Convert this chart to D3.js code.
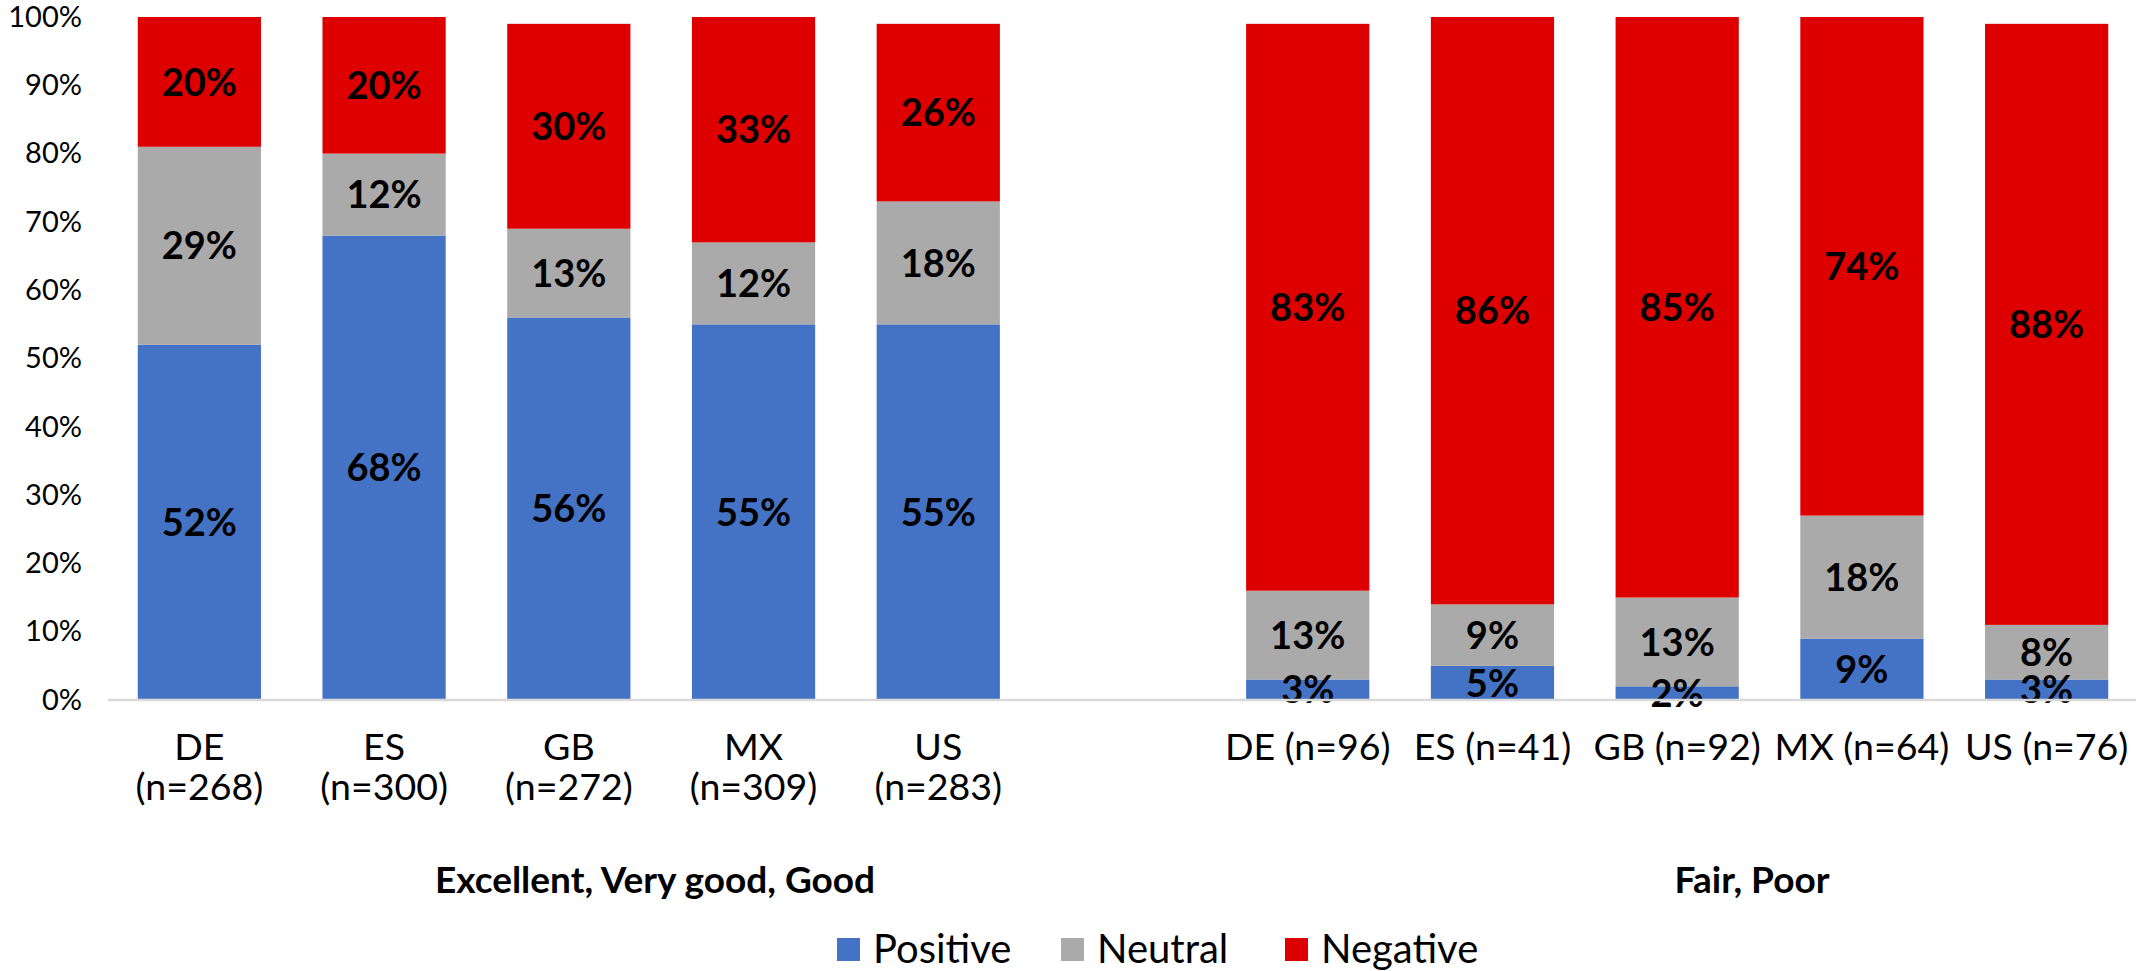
<!DOCTYPE html>
<html>
<head>
<meta charset="utf-8">
<script src="https://cdn.jsdelivr.net/npm/d3@7"></script>
<style>
  html, body { margin: 0; padding: 0; background: #fff; }
  svg { display: block; font-family: Lato, "Open Sans", sans-serif; }
</style>
</head>
<body>
<svg id="chart" width="2136" height="971"></svg>
<script>
// Survey groups and countries
const groupTitles = ["Excellent, Very good, Good", "Fair, Poor"];
const countries = ["DE", "ES", "GB", "MX", "US"];
const sampleGood = [268, 300, 272, 309, 283];
const sampleFair = [96, 41, 92, 64, 76];

// Share of responses (%) per country, rating group "Excellent, Very good, Good"
const positiveGood = [52, 68, 56, 55, 55];
const neutralGood  = [29, 12, 13, 12, 18];
const negativeGood = [20, 20, 30, 33, 26];

// Share of responses (%) per country, rating group "Fair, Poor"
const positiveFair = [3, 5, 2, 9, 3];
const neutralFair  = [13, 9, 13, 18, 8];
const negativeFair = [83, 86, 85, 74, 88];

const seriesNames = ["Positive", "Neutral", "Negative"];
const seriesColors = ["#4472C4", "#AAAAAA", "#DE0000"];
const yTicks = [0, 10, 20, 30, 40, 50, 60, 70, 80, 90, 100];

// Build one row per bar; an empty slot separates the two groups
const rows = [];
countries.forEach((c, i) => rows.push({
  key: "g-" + c, group: 0, line1: c, line2: "(n=" + sampleGood[i] + ")",
  Positive: positiveGood[i], Neutral: neutralGood[i], Negative: negativeGood[i]
}));
const gapKey = "gap";
countries.forEach((c, i) => rows.push({
  key: "f-" + c, group: 1, line1: c + " (n=" + sampleFair[i] + ")", line2: null,
  Positive: positiveFair[i], Neutral: neutralFair[i], Negative: negativeFair[i]
}));
const domainKeys = rows.filter(r => r.group === 0).map(r => r.key)
  .concat([gapKey])
  .concat(rows.filter(r => r.group === 1).map(r => r.key));

const svg = d3.select("#chart");

const x = d3.scaleBand()
  .domain(domainKeys)
  .range([107, 2139])
  .paddingInner(0.333)
  .paddingOuter(0.1665);

const y = d3.scaleLinear().domain([0, 100]).range([700, 17]);

const color = d3.scaleOrdinal().domain(seriesNames).range(seriesColors);

// Plot area clip (values above 100% are cut at the axis maximum)
svg.append("defs").append("clipPath").attr("id", "plotClip")
  .append("rect")
  .attr("x", 0).attr("y", y(100))
  .attr("width", 2136).attr("height", y(0) - y(100));

const stacked = d3.stack().keys(seriesNames)(rows);

const barsG = svg.append("g").attr("clip-path", "url(#plotClip)");
barsG.selectAll("g.series")
  .data(stacked)
  .join("g")
  .attr("class", "series")
  .attr("fill", d => color(d.key))
  .selectAll("rect")
  .data(d => d)
  .join("rect")
  .attr("x", d => x(d.data.key))
  .attr("width", x.bandwidth())
  .attr("y", d => y(d[1]))
  .attr("height", d => y(d[0]) - y(d[1]));

// Value labels centred in each segment
const labelsG = svg.append("g");
stacked.forEach(s => {
  labelsG.selectAll(null)
    .data(s)
    .join("text")
    .attr("x", d => x(d.data.key) + x.bandwidth() / 2)
    .attr("y", d => y((d[0] + Math.min(d[1], 100)) / 2))
    .attr("dy", "0.36em")
    .attr("text-anchor", "middle")
    .attr("font-size", 38)
    .attr("font-weight", 700)
    .attr("fill", "#000")
    .text(d => d.data[s.key] + "%");
});

// Baseline
svg.append("line")
  .attr("x1", 108).attr("x2", 2136)
  .attr("y1", y(0)).attr("y2", y(0))
  .attr("stroke", "#D9D9D9")
  .attr("stroke-width", 2.5);

// Y axis labels
const yAxis = svg.append("g")
  .attr("transform", "translate(82,0)")
  .call(d3.axisLeft(y).tickValues(yTicks).tickSize(0).tickPadding(0)
    .tickFormat(d => d + "%"));
yAxis.select(".domain").remove();
yAxis.selectAll("text")
  .attr("font-family", "Lato, 'Open Sans', sans-serif")
  .attr("font-size", 29)
  .attr("fill", "#000");

// Category axis
const xAxis = svg.append("g")
  .attr("transform", "translate(0," + y(0) + ")")
  .call(d3.axisBottom(x).tickValues(rows.map(r => r.key)).tickSize(0).tickFormat(""));
xAxis.select(".domain").remove();
const rowByKey = new Map(rows.map(r => [r.key, r]));
xAxis.selectAll(".tick text").each(function(k) {
  const r = rowByKey.get(k);
  const t = d3.select(this)
    .attr("y", 0).attr("dy", null)
    .attr("font-family", "Lato, 'Open Sans', sans-serif")
    .attr("font-size", 37.5)
    .attr("fill", "#000")
    .text(null);
  t.append("tspan").attr("x", 0).attr("y", 60).text(r.line1);
  if (r.line2) t.append("tspan").attr("x", 0).attr("y", 100).text(r.line2);
});

// Group titles
const titleCenters = [655, 1752];
svg.selectAll("text.group-title")
  .data(groupTitles)
  .join("text")
  .attr("class", "group-title")
  .attr("x", (d, i) => titleCenters[i])
  .attr("y", 893)
  .attr("text-anchor", "middle")
  .attr("font-size", 37)
  .attr("font-weight", 700)
  .attr("fill", "#000")
  .text(d => d);

// Legend
const legend = svg.append("g").attr("transform", "translate(837,938)");
const items = legend.selectAll("g")
  .data(seriesNames)
  .join("g")
  .attr("transform", (d, i) => "translate(" + (i * 224) + ",0)");
items.append("rect")
  .attr("width", 23).attr("height", 23)
  .attr("fill", d => color(d));
items.append("text")
  .attr("x", 36).attr("y", 25)
  .attr("font-size", 40)
  .attr("fill", "#000")
  .text(d => d);
</script>
</body>
</html>
